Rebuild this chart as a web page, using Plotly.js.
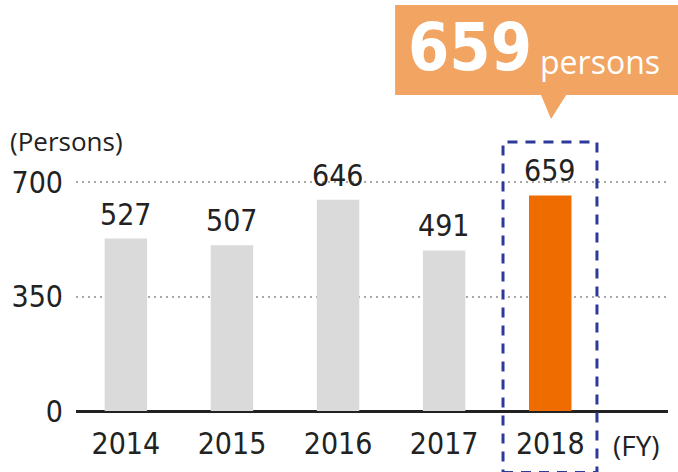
<!DOCTYPE html>
<html>
<head>
<meta charset="utf-8">
<script src="https://cdn.plot.ly/plotly-3.0.1.min.js"></script>
<style>html,body{margin:0;padding:0;background:#fff;}#chart{width:678px;height:472px;}</style>
</head>
<body>
<div id="chart"></div>
<script>
const years = ['2014', '2015', '2016', '2017', '2018'];
const persons = [527, 507, 646, 491, 659];
const yTicks = [0, 350, 700];
const highlightYear = '2018';
const highlightValue = 659;

const numFont = 'DejaVu Sans Condensed, DejaVu Sans, sans-serif';
const textFont = 'Open Sans, Noto Sans, sans-serif';
const barColors = years.map(y => y === highlightYear ? '#ee6c00' : '#d9dad9');

const valueLabels = years.map((y, i) => ({
  x: i, y: persons[i], xref: 'x', yref: 'y',
  text: String(persons[i]), showarrow: false,
  yanchor: 'bottom', yshift: 5,
  font: {family: numFont, size: 30, color: '#222', stretch: 'condensed'}
}));

const layout = {
  width: 678, height: 472,
  margin: {l: 76, r: 10, t: 149, b: 61},
  paper_bgcolor: '#fff', plot_bgcolor: '#fff',
  showlegend: false,
  bargap: 0.6,
  xaxis: {
    type: 'category', range: [-0.47, 5.11],
    showgrid: false, zeroline: false, showline: false, ticks: '',
    tickfont: {family: numFont, size: 30, color: '#222', stretch: 'condensed'},
    ticklabelstandoff: 12
  },
  yaxis: {
    range: [0, 801], tickvals: yTicks, ticktext: yTicks.map(String),
    showgrid: true, gridcolor: '#a8a8a8', gridwidth: 2, griddash: '2px,4px',
    zeroline: true, zerolinecolor: '#222', zerolinewidth: 3,
    showline: false, ticks: '',
    tickfont: {family: numFont, size: 30, color: '#222', stretch: 'condensed'},
    ticklabelstandoff: 12
  },
  shapes: [
    {type: 'path', xref: 'paper', yref: 'paper',
     path: 'M 0.539 1.55 L 1.02 1.55 L 1.02 1.206 L 0.828 1.206 L 0.8024 1.1145 L 0.7855 1.206 L 0.539 1.206 Z',
     fillcolor: '#f2a462', line: {width: 0}},
    {type: 'rect', xref: 'paper', yref: 'paper',
     x0: 0.7213, x1: 0.880, y0: -0.235, y1: 1.0267,
     line: {color: '#2e3a9a', width: 3, dash: '10px,8px'}, fillcolor: 'rgba(0,0,0,0)'}
  ],
  annotations: valueLabels.concat([
    {xref: 'paper', yref: 'paper', x: -0.115, y: 1.0305, xanchor: 'left', yanchor: 'middle',
     text: '(Persons)', showarrow: false, font: {family: textFont, size: 26, color: '#222'}},
    {xref: 'paper', yref: 'paper', x: 0.9475, y: -0.128, xanchor: 'center', yanchor: 'middle',
     text: '(FY)', showarrow: false, font: {family: textFont, size: 28, color: '#222'}},
    {xref: 'paper', yref: 'paper', x: 0.6655, y: 1.389, xanchor: 'center', yanchor: 'middle',
     text: '<b>' + highlightValue + '</b>', showarrow: false,
     font: {family: numFont, size: 66, color: '#ffffff', stretch: 'condensed'}},
    {xref: 'paper', yref: 'paper', x: 0.885, y: 1.335, xanchor: 'center', yanchor: 'middle',
     text: 'persons', showarrow: false, font: {family: textFont, size: 32, color: '#ffffff'}}
  ])
};

const data = [{
  type: 'bar', x: years, y: persons,
  marker: {color: barColors, line: {width: 0}},
  hoverinfo: 'none'
}];

Plotly.newPlot('chart', data, layout, {displayModeBar: false, staticPlot: true});
</script>
</body>
</html>
